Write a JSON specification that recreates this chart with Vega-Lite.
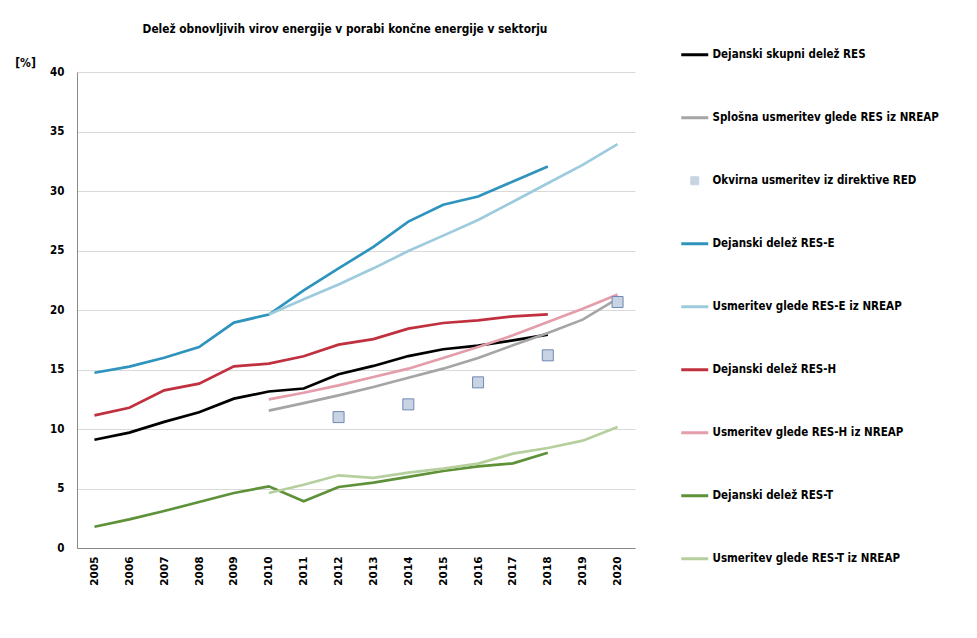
{
  "$schema": "https://vega.github.io/schema/vega-lite/v6.json",
  "autosize": {"type": "none"},
  "width": 558,
  "height": 476,
  "padding": {"left": 77, "top": 72, "right": 342, "bottom": 90},
  "background": "white",
  "title": {
    "text": "Delež obnovljivih virov energije v porabi končne energije v sektorju",
    "font": "DejaVu Sans Condensed",
    "fontSize": 11.8,
    "fontWeight": "bold",
    "color": "black",
    "anchor": "middle",
    "frame": "group",
    "dx": -11,
    "offset": 13
  },
  "config": {
    "view": {"stroke": null},
    "axis": {
      "labelFont": "DejaVu Sans Condensed",
      "labelFontWeight": "bold",
      "labelColor": "black",
      "domainColor": "#898989",
      "gridColor": "#d9d9d9",
      "ticks": false
    },
    "legend": {
      "labelFont": "DejaVu Sans Condensed",
      "labelFontWeight": "bold",
      "labelFontSize": 11.5,
      "labelColor": "black"
    }
  },
  "data": {
    "values": [
      {"year": 2005, "series": "Dejanski skupni delež RES", "value": 9.1},
      {"year": 2006, "series": "Dejanski skupni delež RES", "value": 9.7},
      {"year": 2007, "series": "Dejanski skupni delež RES", "value": 10.6},
      {"year": 2008, "series": "Dejanski skupni delež RES", "value": 11.4},
      {"year": 2009, "series": "Dejanski skupni delež RES", "value": 12.55},
      {"year": 2010, "series": "Dejanski skupni delež RES", "value": 13.15},
      {"year": 2011, "series": "Dejanski skupni delež RES", "value": 13.4},
      {"year": 2012, "series": "Dejanski skupni delež RES", "value": 14.6},
      {"year": 2013, "series": "Dejanski skupni delež RES", "value": 15.3},
      {"year": 2014, "series": "Dejanski skupni delež RES", "value": 16.13},
      {"year": 2015, "series": "Dejanski skupni delež RES", "value": 16.7},
      {"year": 2016, "series": "Dejanski skupni delež RES", "value": 17.0},
      {"year": 2017, "series": "Dejanski skupni delež RES", "value": 17.45},
      {"year": 2018, "series": "Dejanski skupni delež RES", "value": 17.93},

      {"year": 2010, "series": "Splošna usmeritev glede RES iz NREAP", "value": 11.54},
      {"year": 2011, "series": "Splošna usmeritev glede RES iz NREAP", "value": 12.18},
      {"year": 2012, "series": "Splošna usmeritev glede RES iz NREAP", "value": 12.83},
      {"year": 2013, "series": "Splošna usmeritev glede RES iz NREAP", "value": 13.53},
      {"year": 2014, "series": "Splošna usmeritev glede RES iz NREAP", "value": 14.31},
      {"year": 2015, "series": "Splošna usmeritev glede RES iz NREAP", "value": 15.07},
      {"year": 2016, "series": "Splošna usmeritev glede RES iz NREAP", "value": 15.97},
      {"year": 2017, "series": "Splošna usmeritev glede RES iz NREAP", "value": 17.03},
      {"year": 2018, "series": "Splošna usmeritev glede RES iz NREAP", "value": 18.07},
      {"year": 2019, "series": "Splošna usmeritev glede RES iz NREAP", "value": 19.19},
      {"year": 2020, "series": "Splošna usmeritev glede RES iz NREAP", "value": 20.95},

      {"year": 2012, "series": "Okvirna usmeritev iz direktive RED", "value": 11.0},
      {"year": 2014, "series": "Okvirna usmeritev iz direktive RED", "value": 12.07},
      {"year": 2016, "series": "Okvirna usmeritev iz direktive RED", "value": 13.92},
      {"year": 2018, "series": "Okvirna usmeritev iz direktive RED", "value": 16.19},
      {"year": 2020, "series": "Okvirna usmeritev iz direktive RED", "value": 20.67},

      {"year": 2005, "series": "Dejanski delež RES-E", "value": 14.73},
      {"year": 2006, "series": "Dejanski delež RES-E", "value": 15.24},
      {"year": 2007, "series": "Dejanski delež RES-E", "value": 15.99},
      {"year": 2008, "series": "Dejanski delež RES-E", "value": 16.89},
      {"year": 2009, "series": "Dejanski delež RES-E", "value": 18.94},
      {"year": 2010, "series": "Dejanski delež RES-E", "value": 19.62},
      {"year": 2011, "series": "Dejanski delež RES-E", "value": 21.65},
      {"year": 2012, "series": "Dejanski delež RES-E", "value": 23.5},
      {"year": 2013, "series": "Dejanski delež RES-E", "value": 25.3},
      {"year": 2014, "series": "Dejanski delež RES-E", "value": 27.43},
      {"year": 2015, "series": "Dejanski delež RES-E", "value": 28.84},
      {"year": 2016, "series": "Dejanski delež RES-E", "value": 29.54},
      {"year": 2017, "series": "Dejanski delež RES-E", "value": 30.8},
      {"year": 2018, "series": "Dejanski delež RES-E", "value": 32.06},

      {"year": 2010, "series": "Usmeritev glede RES-E iz NREAP", "value": 19.62},
      {"year": 2011, "series": "Usmeritev glede RES-E iz NREAP", "value": 20.9},
      {"year": 2012, "series": "Usmeritev glede RES-E iz NREAP", "value": 22.15},
      {"year": 2013, "series": "Usmeritev glede RES-E iz NREAP", "value": 23.5},
      {"year": 2014, "series": "Usmeritev glede RES-E iz NREAP", "value": 24.95},
      {"year": 2015, "series": "Usmeritev glede RES-E iz NREAP", "value": 26.25},
      {"year": 2016, "series": "Usmeritev glede RES-E iz NREAP", "value": 27.57},
      {"year": 2017, "series": "Usmeritev glede RES-E iz NREAP", "value": 29.1},
      {"year": 2018, "series": "Usmeritev glede RES-E iz NREAP", "value": 30.65},
      {"year": 2019, "series": "Usmeritev glede RES-E iz NREAP", "value": 32.2},
      {"year": 2020, "series": "Usmeritev glede RES-E iz NREAP", "value": 33.94},

      {"year": 2005, "series": "Dejanski delež RES-H", "value": 11.15},
      {"year": 2006, "series": "Dejanski delež RES-H", "value": 11.79},
      {"year": 2007, "series": "Dejanski delež RES-H", "value": 13.25},
      {"year": 2008, "series": "Dejanski delež RES-H", "value": 13.81},
      {"year": 2009, "series": "Dejanski delež RES-H", "value": 15.27},
      {"year": 2010, "series": "Dejanski delež RES-H", "value": 15.49},
      {"year": 2011, "series": "Dejanski delež RES-H", "value": 16.11},
      {"year": 2012, "series": "Dejanski delež RES-H", "value": 17.09},
      {"year": 2013, "series": "Dejanski delež RES-H", "value": 17.55},
      {"year": 2014, "series": "Dejanski delež RES-H", "value": 18.43},
      {"year": 2015, "series": "Dejanski delež RES-H", "value": 18.91},
      {"year": 2016, "series": "Dejanski delež RES-H", "value": 19.13},
      {"year": 2017, "series": "Dejanski delež RES-H", "value": 19.47},
      {"year": 2018, "series": "Dejanski delež RES-H", "value": 19.64},

      {"year": 2010, "series": "Usmeritev glede RES-H iz NREAP", "value": 12.49},
      {"year": 2011, "series": "Usmeritev glede RES-H iz NREAP", "value": 13.05},
      {"year": 2012, "series": "Usmeritev glede RES-H iz NREAP", "value": 13.67},
      {"year": 2013, "series": "Usmeritev glede RES-H iz NREAP", "value": 14.37},
      {"year": 2014, "series": "Usmeritev glede RES-H iz NREAP", "value": 15.07},
      {"year": 2015, "series": "Usmeritev glede RES-H iz NREAP", "value": 15.97},
      {"year": 2016, "series": "Usmeritev glede RES-H iz NREAP", "value": 16.89},
      {"year": 2017, "series": "Usmeritev glede RES-H iz NREAP", "value": 17.87},
      {"year": 2018, "series": "Usmeritev glede RES-H iz NREAP", "value": 18.99},
      {"year": 2019, "series": "Usmeritev glede RES-H iz NREAP", "value": 20.11},
      {"year": 2020, "series": "Usmeritev glede RES-H iz NREAP", "value": 21.3},

      {"year": 2005, "series": "Dejanski delež RES-T", "value": 1.79},
      {"year": 2006, "series": "Dejanski delež RES-T", "value": 2.41},
      {"year": 2007, "series": "Dejanski delež RES-T", "value": 3.11},
      {"year": 2008, "series": "Dejanski delež RES-T", "value": 3.87},
      {"year": 2009, "series": "Dejanski delež RES-T", "value": 4.62},
      {"year": 2010, "series": "Dejanski delež RES-T", "value": 5.18},
      {"year": 2011, "series": "Dejanski delež RES-T", "value": 3.92},
      {"year": 2012, "series": "Dejanski delež RES-T", "value": 5.13},
      {"year": 2013, "series": "Dejanski delež RES-T", "value": 5.5},
      {"year": 2014, "series": "Dejanski delež RES-T", "value": 5.97},
      {"year": 2015, "series": "Dejanski delež RES-T", "value": 6.47},
      {"year": 2016, "series": "Dejanski delež RES-T", "value": 6.86},
      {"year": 2017, "series": "Dejanski delež RES-T", "value": 7.11},
      {"year": 2018, "series": "Dejanski delež RES-T", "value": 8.01},

      {"year": 2010, "series": "Usmeritev glede RES-T iz NREAP", "value": 4.62},
      {"year": 2011, "series": "Usmeritev glede RES-T iz NREAP", "value": 5.32},
      {"year": 2012, "series": "Usmeritev glede RES-T iz NREAP", "value": 6.11},
      {"year": 2013, "series": "Usmeritev glede RES-T iz NREAP", "value": 5.9},
      {"year": 2014, "series": "Usmeritev glede RES-T iz NREAP", "value": 6.33},
      {"year": 2015, "series": "Usmeritev glede RES-T iz NREAP", "value": 6.67},
      {"year": 2016, "series": "Usmeritev glede RES-T iz NREAP", "value": 7.09},
      {"year": 2017, "series": "Usmeritev glede RES-T iz NREAP", "value": 7.93},
      {"year": 2018, "series": "Usmeritev glede RES-T iz NREAP", "value": 8.4},
      {"year": 2019, "series": "Usmeritev glede RES-T iz NREAP", "value": 9.02},
      {"year": 2020, "series": "Usmeritev glede RES-T iz NREAP", "value": 10.17}
    ]
  },
  "encoding": {
    "x": {
      "field": "year",
      "type": "ordinal",
      "scale": {"domain": [2005, 2006, 2007, 2008, 2009, 2010, 2011, 2012, 2013, 2014, 2015, 2016, 2017, 2018, 2019, 2020]},
      "axis": {
        "title": null,
        "labelAngle": -90,
        "labelFont": "DejaVu Sans",
        "labelFontSize": 10.5,
        "labelPadding": 8,
        "grid": false
      }
    },
    "y": {
      "field": "value",
      "type": "quantitative",
      "scale": {"domain": [0, 40], "nice": false},
      "axis": {
        "title": "[%]",
        "titleAngle": 0,
        "titleX": -52,
        "titleY": -10,
        "titleAlign": "center",
        "titleBaseline": "middle",
        "titleFont": "DejaVu Sans Condensed",
        "titleFontSize": 12,
        "titleFontWeight": "bold",
        "titleColor": "black",
        "values": [0, 5, 10, 15, 20, 25, 30, 35, 40],
        "labelFontSize": 11.5,
        "labelPadding": 13,
        "grid": true
      }
    }
  },
  "layer": [
    {
      "transform": [{"filter": "datum.series !== 'Okvirna usmeritev iz direktive RED'"}],
      "mark": {"type": "line", "strokeWidth": 2.7},
      "encoding": {
        "color": {
          "field": "series",
          "type": "nominal",
          "scale": {
            "domain": [
              "Dejanski skupni delež RES",
              "Splošna usmeritev glede RES iz NREAP",
              "Okvirna usmeritev iz direktive RED",
              "Dejanski delež RES-E",
              "Usmeritev glede RES-E iz NREAP",
              "Dejanski delež RES-H",
              "Usmeritev glede RES-H iz NREAP",
              "Dejanski delež RES-T",
              "Usmeritev glede RES-T iz NREAP"
            ],
            "range": ["#000000", "#a5a5a5", "#c8d3e3", "#2f94bd", "#9dcbdd", "#c0303f", "#e39dab", "#5e9138", "#b6cf9e"]
          },
          "legend": {
            "title": null,
            "orient": "none",
            "legendX": 612,
            "legendY": -23,
            "padding": 0,
            "symbolType": "stroke",
            "symbolSize": 729,
            "symbolStrokeWidth": 3,
            "labelOffset": 12,
            "labelLimit": 400,
            "rowPadding": 50,
            "encode": {
              "symbols": {
                "update": {
                  "shape": {"signal": "datum.value === 'Okvirna usmeritev iz direktive RED' ? 'square' : 'stroke'"},
                  "size": {"signal": "datum.value === 'Okvirna usmeritev iz direktive RED' ? 64 : 729"},
                  "fill": {"signal": "datum.value === 'Okvirna usmeritev iz direktive RED' ? '#c8d3e3' : 'transparent'"},
                  "stroke": {"signal": "datum.value === 'Okvirna usmeritev iz direktive RED' ? '#6f88b3' : scale('color', datum.value)"},
                  "strokeWidth": {"signal": "datum.value === 'Okvirna usmeritev iz direktive RED' ? 1 : 3"}
                }
              }
            }
          }
        }
      }
    },
    {
      "transform": [{"filter": "datum.series === 'Okvirna usmeritev iz direktive RED'"}],
      "mark": {"type": "point", "shape": "square", "size": 121, "filled": true, "fill": "#c8d3e3", "stroke": "#6f88b3", "strokeWidth": 1, "opacity": 1}
    }
  ]
}
